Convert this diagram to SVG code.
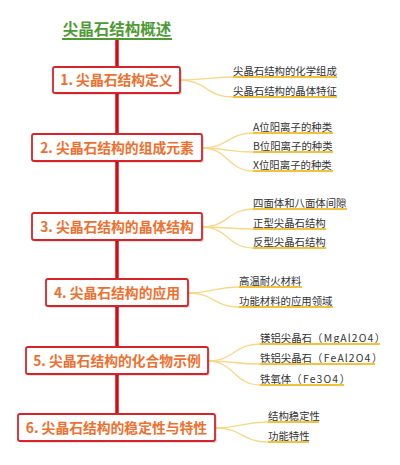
<svg xmlns="http://www.w3.org/2000/svg" width="400" height="465" viewBox="0 0 400 465">
<defs>
<style>
.bg{fill:#ffffff}
.title{font-family:"Noto Sans CJK SC","Liberation Sans",sans-serif;font-size:15.5px;font-weight:bold;fill:#4e9a35}
.box{fill:#ffffff;stroke:#d9232a;stroke-width:1.8}
.shadow{fill:#000000;opacity:0.12}
.ntext{font-family:"Noto Sans CJK SC","Liberation Sans",sans-serif;font-size:13.8px;font-weight:bold;fill:#ef6f2e}
.stext{font-family:"Noto Sans CJK SC","Liberation Sans",sans-serif;font-size:10.4px;fill:#333333}
.lat{letter-spacing:1.1px}
.ul{stroke:#f2c23c;stroke-width:1.8;fill:none}
.conn{stroke:#f7d888;stroke-width:1.3;fill:none}
.trunk{stroke:#d40f14;stroke-width:3.5;fill:none}
</style>
</defs>
<rect class="bg" x="0" y="0" width="400" height="465"/>
<g id="connectors">
<line class="trunk" x1="117" y1="39" x2="117" y2="415"/>
<path class="conn" d="M180 80 C206 80,206 77,233 77"/>
<path class="conn" d="M180 80 C206 80,206 97,233 97"/>
<path class="conn" d="M202 148 C228 148,228 133,253 133"/>
<path class="conn" d="M202 148 C228 148,228 152,253 152"/>
<path class="conn" d="M202 148 C228 148,228 171,253 171"/>
<path class="conn" d="M202 227 C228 227,228 209,253 209"/>
<path class="conn" d="M202 227 C228 227,228 229,253 229"/>
<path class="conn" d="M202 227 C228 227,228 248,253 248"/>
<path class="conn" d="M188 293 C214 293,214 287,239 287"/>
<path class="conn" d="M188 293 C214 293,214 307,239 307"/>
<path class="conn" d="M208 361 C234 361,234 344,260 344"/>
<path class="conn" d="M208 361 C234 361,234 364,260 364"/>
<path class="conn" d="M208 361 C234 361,234 385,260 385"/>
<path class="conn" d="M215 428 C242 428,242 422,268 422"/>
<path class="conn" d="M215 428 C242 428,242 442,268 442"/>
</g>
<g id="title">
<text class="title" x="117" y="35" text-anchor="middle">尖晶石结构概述</text>
<line x1="62" y1="39" x2="172" y2="39" stroke="#4e9a35" stroke-width="1.8"/>
</g>
<g id="node1">
<rect class="shadow" x="55" y="69" width="127" height="26" rx="2"/>
<rect class="box" x="53" y="67" width="127" height="26" rx="2"/>
<text class="ntext" x="116.5" y="85" text-anchor="middle">1. 尖晶石结构定义</text>
</g>
<g id="node2">
<rect class="shadow" x="34" y="136" width="170" height="27" rx="2"/>
<rect class="box" x="32" y="134" width="170" height="27" rx="2"/>
<text class="ntext" x="117" y="153" text-anchor="middle">2. 尖晶石结构的组成元素</text>
</g>
<g id="node3">
<rect class="shadow" x="34" y="215" width="170" height="27" rx="2"/>
<rect class="box" x="32" y="213" width="170" height="27" rx="2"/>
<text class="ntext" x="117" y="232" text-anchor="middle">3. 尖晶石结构的晶体结构</text>
</g>
<g id="node4">
<rect class="shadow" x="48" y="281" width="142" height="27" rx="2"/>
<rect class="box" x="46" y="279" width="142" height="27" rx="2"/>
<text class="ntext" x="117" y="298" text-anchor="middle">4. 尖晶石结构的应用</text>
</g>
<g id="node5">
<rect class="shadow" x="28" y="349" width="182" height="27" rx="2"/>
<rect class="box" x="26" y="347" width="182" height="27" rx="2"/>
<text class="ntext" x="117" y="366" text-anchor="middle">5. 尖晶石结构的化合物示例</text>
</g>
<g id="node6">
<rect class="shadow" x="20" y="416" width="197" height="27" rx="2"/>
<rect class="box" x="18" y="414" width="197" height="27" rx="2"/>
<text class="ntext" x="116.5" y="433" text-anchor="middle">6. 尖晶石结构的稳定性与特性</text>
</g>
<g id="n1a"><text class="stext" x="233" y="74.5">尖晶石结构的化学组成</text><line class="ul" x1="233" y1="77" x2="337" y2="77"/></g>
<g id="n1b"><text class="stext" x="233" y="94.5">尖晶石结构的晶体特征</text><line class="ul" x1="233" y1="97" x2="337" y2="97"/></g>
<g id="n2a"><text class="stext" x="253" y="130.5">A位阳离子的种类</text><line class="ul" x1="253" y1="133" x2="333" y2="133"/></g>
<g id="n2b"><text class="stext" x="253" y="149.5">B位阳离子的种类</text><line class="ul" x1="253" y1="152" x2="333" y2="152"/></g>
<g id="n2c"><text class="stext" x="253" y="168.5">X位阳离子的种类</text><line class="ul" x1="253" y1="171" x2="333" y2="171"/></g>
<g id="n3a"><text class="stext" x="253" y="206.5">四面体和八面体间隙</text><line class="ul" x1="253" y1="209" x2="347" y2="209"/></g>
<g id="n3b"><text class="stext" x="253" y="226.5">正型尖晶石结构</text><line class="ul" x1="253" y1="229" x2="326" y2="229"/></g>
<g id="n3c"><text class="stext" x="253" y="245.5">反型尖晶石结构</text><line class="ul" x1="253" y1="248" x2="326" y2="248"/></g>
<g id="n4a"><text class="stext" x="239" y="284.5">高温耐火材料</text><line class="ul" x1="239" y1="287" x2="302" y2="287"/></g>
<g id="n4b"><text class="stext" x="239" y="304.5">功能材料的应用领域</text><line class="ul" x1="239" y1="307" x2="333" y2="307"/></g>
<g id="n5a"><text class="stext" x="260" y="341.5">镁铝尖晶石（<tspan class="lat" dx="1.5">MgAl2O4</tspan><tspan dx="0.5">）</tspan></text><line class="ul" x1="260" y1="344" x2="380" y2="344"/></g>
<g id="n5b"><text class="stext" x="260" y="361.5">铁铝尖晶石（<tspan class="lat" dx="1.5">FeAl2O4</tspan><tspan dx="0.5">）</tspan></text><line class="ul" x1="260" y1="364" x2="375" y2="364"/></g>
<g id="n5c"><text class="stext" x="260" y="382.5">铁氧体（<tspan class="lat" dx="1.5">Fe3O4</tspan><tspan dx="0.5">）</tspan></text><line class="ul" x1="260" y1="385" x2="344" y2="385"/></g>
<g id="n6a"><text class="stext" x="268" y="419.5">结构稳定性</text><line class="ul" x1="268" y1="422" x2="319" y2="422"/></g>
<g id="n6b"><text class="stext" x="268" y="439.5">功能特性</text><line class="ul" x1="268" y1="442" x2="309" y2="442"/></g>
</svg>
